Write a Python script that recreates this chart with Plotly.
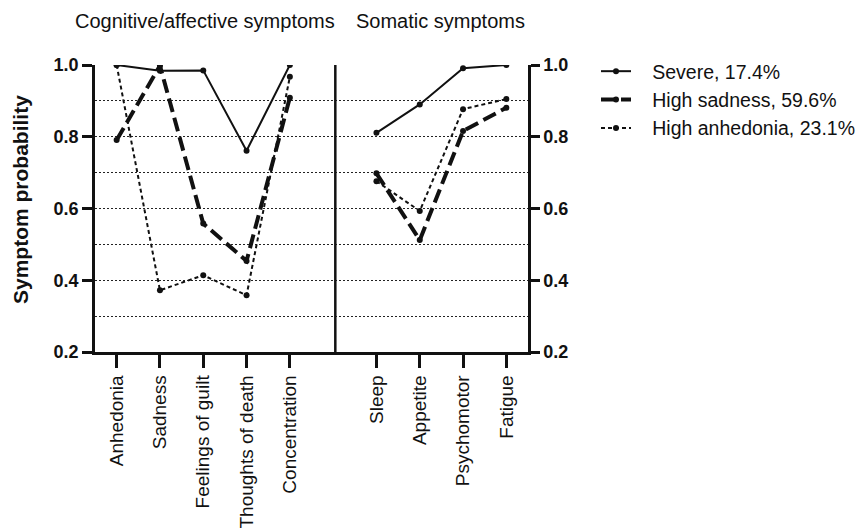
import plotly.graph_objects as go

# ---- data ----
cognitive_labels = ["Anhedonia", "Sadness", "Feelings of guilt", "Thoughts of death", "Concentration"]
somatic_labels = ["Sleep", "Appetite", "Psychomotor", "Fatigue"]

series_names = ["Severe, 17.4%", "High sadness, 59.6%", "High anhedonia, 23.1%"]

severe_cog = [1.0, 0.984, 0.985, 0.761, 1.0]
severe_som = [0.811, 0.890, 0.991, 1.0]

sadness_cog = [0.791, 0.998, 0.558, 0.454, 0.909]
sadness_som = [0.698, 0.512, 0.816, 0.881]

anhedonia_cog = [1.0, 0.372, 0.414, 0.358, 0.967]
anhedonia_som = [0.676, 0.593, 0.877, 0.905]

y_ticks = [0.2, 0.4, 0.6, 0.8, 1.0]
panel_titles = ["Cognitive/affective symptoms", "Somatic symptoms"]
y_title = "Symptom probability"

# ---- positions (category slots, one empty slot between the panels) ----
cog_x = list(range(len(cognitive_labels)))
som_x = [len(cognitive_labels) + 1 + i for i in range(len(somatic_labels))]
all_x = cog_x + som_x
all_labels = cognitive_labels + somatic_labels

FONT = "Liberation Sans, Arial, Helvetica, sans-serif"
INK = "#111111"
PAD = "\u00a0\u00a0\u00a0"  # spacing between legend key and its text

styles = [
    dict(width=2, dash="solid"),
    dict(width=4, dash="14px,6px"),
    dict(width=2, dash="4px,3px"),
]
cog_vals = [severe_cog, sadness_cog, anhedonia_cog]
som_vals = [severe_som, sadness_som, anhedonia_som]

fig = go.Figure()
for name, st, cv, sv in zip(series_names, styles, cog_vals, som_vals):
    fig.add_trace(go.Scatter(
        x=cog_x + [None] + som_x,
        y=cv + [None] + sv,
        mode="lines+markers",
        name=PAD + name,
        connectgaps=False,
        line=dict(color=INK, width=st["width"], dash=st["dash"]),
        marker=dict(color=INK, size=6, symbol="circle"),
    ))

# page body has an 8px margin; lay the figure out in screen pixels
OFF = 8
W, H = 866 - OFF, 530 - OFF
L, R, T, B = 95 - OFF, 338, 65 - OFF, 178
pw = W - L - R
ph = H - T - B

def px_x(sx):
    return (sx - OFF - L) / pw

def px_y(sy):
    return (H - B - (sy - OFF)) / ph

grid = dict(color="#222222", width=1, dash="2px,2px")

fig.update_layout(
    width=W, height=H,
    margin=dict(l=L, r=R, t=T, b=B, pad=0, autoexpand=False),
    paper_bgcolor="white",
    plot_bgcolor="white",
    font=dict(family=FONT, size=20, color=INK),
    showlegend=True,
    legend=dict(
        x=px_x(596), y=px_y(52), xanchor="left", yanchor="top",
        font=dict(family=FONT, size=19.5, color=INK),
        bgcolor="rgba(0,0,0,0)", tracegroupgap=0, itemwidth=30,
    ),
    xaxis=dict(
        range=[-0.5, len(all_labels) + 0.5],
        tickmode="array", tickvals=all_x, ticktext=all_labels,
        tickangle=-90, automargin=False,
        ticks="outside", ticklen=13, tickwidth=2.5, tickcolor=INK,
        showline=True, linewidth=2.5, linecolor=INK,
        showgrid=False, zeroline=False,
        tickfont=dict(family=FONT, size=19, color=INK),
        fixedrange=True,
    ),
    yaxis=dict(
        range=[0.2, 1.0], automargin=False,
        tickmode="array", tickvals=y_ticks, tickformat=".1f",
        ticks="outside", ticklen=10, tickwidth=2.5, tickcolor=INK,
        showline=True, linewidth=2.5, linecolor=INK,
        showgrid=True, gridcolor=grid["color"], gridwidth=grid["width"], griddash=grid["dash"],
        minor=dict(dtick=0.1, tick0=0.1, showgrid=True, gridcolor=grid["color"],
                   gridwidth=grid["width"], griddash=grid["dash"], ticks=""),
        zeroline=False,
        tickfont=dict(family=FONT, size=18, color=INK, weight="bold"),
        fixedrange=True,
    ),
    yaxis2=dict(
        range=[0.2, 1.0], overlaying="y", side="right", anchor="x", automargin=False,
        tickmode="array", tickvals=y_ticks, tickformat=".1f",
        ticks="outside", ticklen=9, tickwidth=2.5, tickcolor=INK,
        showline=True, linewidth=2.5, linecolor=INK,
        showgrid=False, zeroline=False,
        tickfont=dict(family=FONT, size=18, color=INK, weight="bold"),
        fixedrange=True,
    ),
)

# invisible anchor trace so the right axis is drawn
fig.add_trace(go.Scatter(x=[None], y=[None], yaxis="y2", showlegend=False, hoverinfo="skip"))

# divider between the two panels
divider_x = len(cognitive_labels) + 0.05
fig.add_shape(type="line", xref="x", yref="paper", x0=divider_x, x1=divider_x, y0=0, y1=1,
              line=dict(color=INK, width=2.5))

# panel titles
fig.add_annotation(text=panel_titles[0], xref="paper", yref="paper",
                   x=px_x(205), y=px_y(21), xanchor="center", yanchor="middle",
                   showarrow=False, font=dict(family=FONT, size=20, color=INK))
fig.add_annotation(text=panel_titles[1], xref="paper", yref="paper",
                   x=px_x(440), y=px_y(21), xanchor="center", yanchor="middle",
                   showarrow=False, font=dict(family=FONT, size=20, color=INK))

# y-axis title
fig.add_annotation(text=y_title, xref="paper", yref="paper",
                   x=px_x(20), y=px_y(200), xanchor="center", yanchor="middle",
                   textangle=-90, showarrow=False,
                   font=dict(family=FONT, size=21, color=INK, weight="bold"))

fig.write_html("out.html")
